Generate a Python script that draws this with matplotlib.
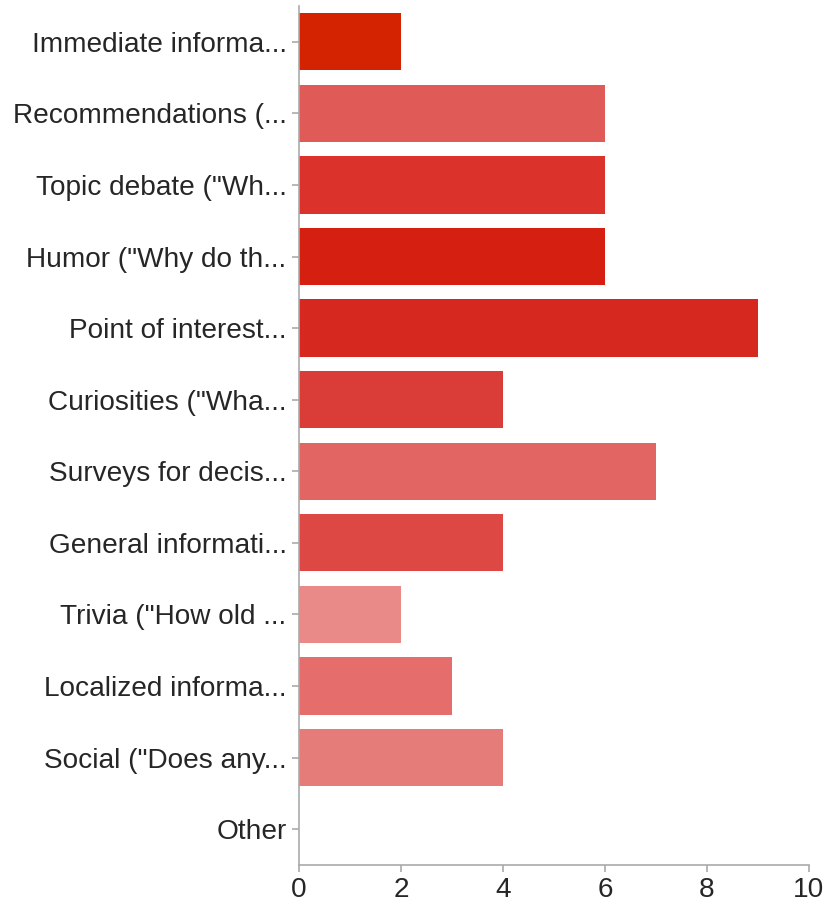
import matplotlib
matplotlib.use('Agg')
import matplotlib.pyplot as plt

# survey answers (labels truncated as in the original chart)
labels = ['Immediate informa...', 'Recommendations (...', 'Topic debate ("Wh...',
          'Humor ("Why do th...', 'Point of interest...', 'Curiosities ("Wha...',
          'Surveys for decis...', 'General informati...', 'Trivia ("How old ...',
          'Localized informa...', 'Social ("Does any...', 'Other']
counts = [2, 6, 6, 6, 9, 4, 7, 4, 2, 3, 4, 0]
colors = ['#d42300', '#e05a58', '#dc322c', '#d51f10', '#d7281f', '#da3d37',
          '#e36563', '#dd4845', '#e98a88', '#e56d6b', '#e67c7a', '#e67c7a']
xticks = [0, 2, 4, 6, 8, 10]

plt.rcParams['font.family'] = ['Liberation Sans', 'DejaVu Sans']

fig = plt.figure(figsize=(8.26, 9.06), dpi=100)
ax = fig.add_axes([0.362, 0.0453, 0.6174, 0.9481])

pos = list(range(len(labels)))
ax.barh(pos, counts, height=0.8, color=colors)

ax.set_ylim(len(labels) - 0.5, -0.5)
ax.set_xlim(0, 10)
ax.set_yticks(pos)
ax.set_yticklabels(labels)
ax.set_xticks(xticks)
ax.set_xticklabels([str(x) for x in xticks])

for s in ['top', 'right']:
    ax.spines[s].set_visible(False)
for s in ['left', 'bottom']:
    ax.spines[s].set_color('#aaaaaa')
    ax.spines[s].set_linewidth(1.2)

ax.tick_params(axis='both', colors='#aaaaaa', length=5, width=1.2,
               labelcolor='#262626', labelsize=20.2)
ax.tick_params(axis='y', pad=4)
ax.tick_params(axis='x', pad=4)

fig.savefig('out.png', dpi=100)
